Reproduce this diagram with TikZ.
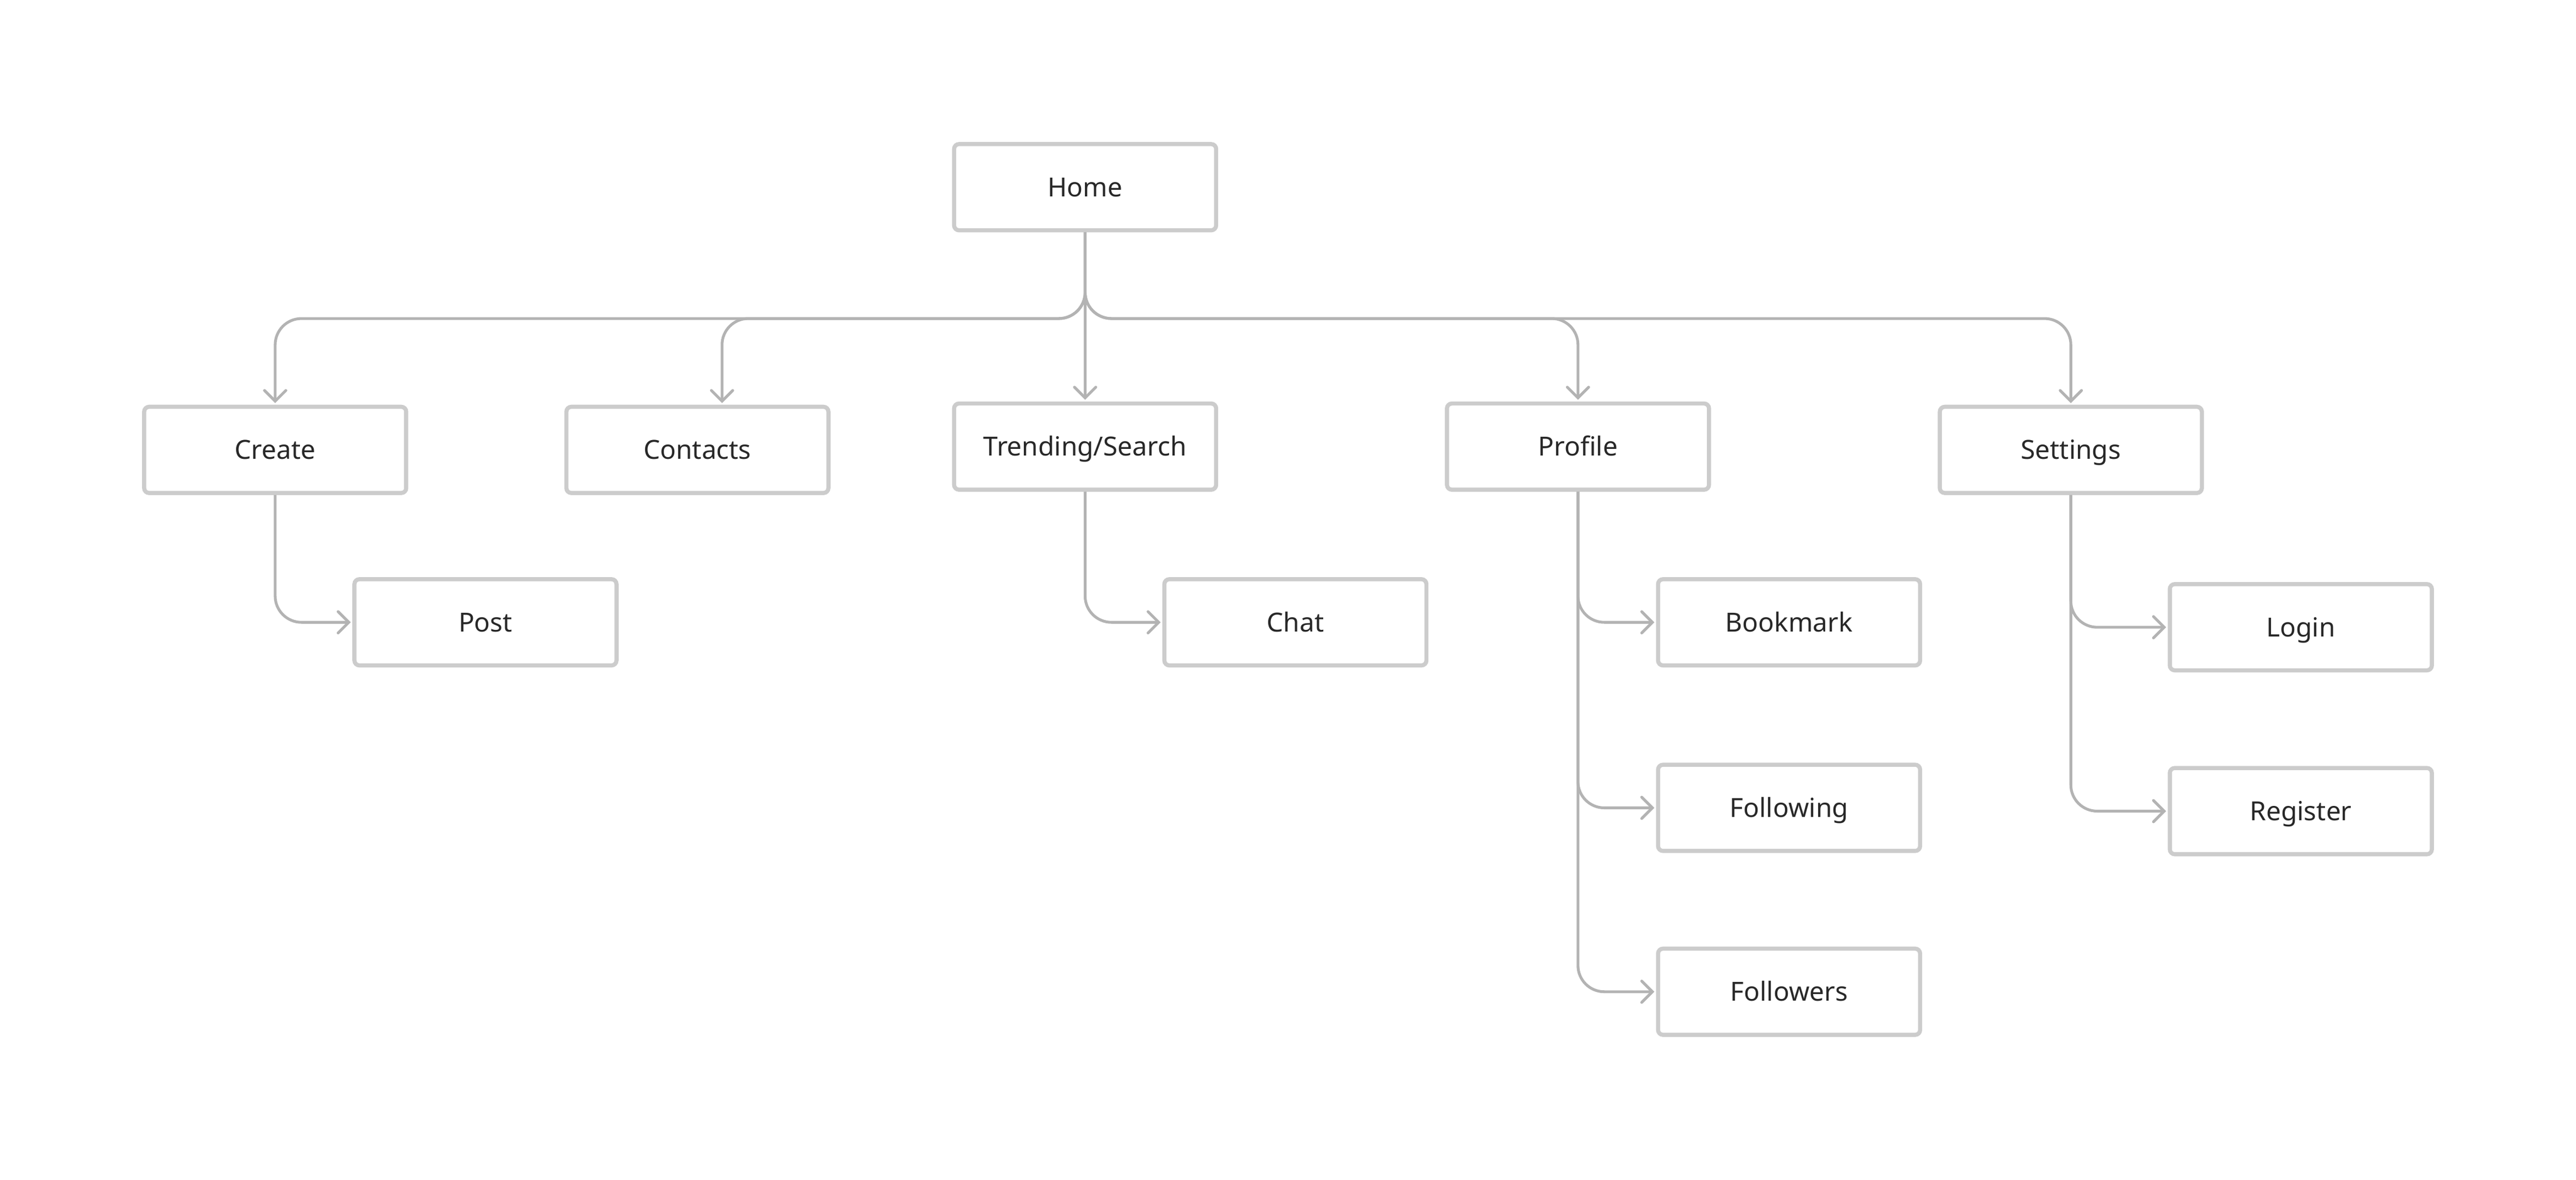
\documentclass[tikz,border=0pt]{standalone}
\usepackage{fontspec}
\setmainfont{Noto Sans}
\usetikzlibrary{arrows.meta}
\definecolor{boxline}{HTML}{CCCCCC}
\definecolor{connline}{HTML}{B3B3B3}
\definecolor{txt}{HTML}{282828}
\tikzset{
  pagebox/.style={draw=boxline, line width=2.5pt, rounded corners=3pt, fill=white,
    minimum width=159.5pt, minimum height=52.5pt, inner sep=0pt,
    text height=11.4pt, text depth=0pt,
    text=txt, font=\fontsize{16}{19}\selectfont},
  conn/.style={draw=connline, line width=1.7pt, rounded corners=16pt,
    -{Straight Barb[length=6.5pt, width=13pt, line cap=round]}, shorten >=1pt}
}
\begin{document}
\begin{tikzpicture}[x=1pt, y=-1pt]
\useasboundingbox (0,0) rectangle (1568,718.33);
% nodes
\node[pagebox] (home) at (660.5,114) {Home};
\node[pagebox] (create) at (167.5,274) {Create};
\node[pagebox] (contacts) at (424.5,274) {Contacts};
\node[pagebox] (trend) at (660.5,272) {Trending/Search};
\node[pagebox] (profile) at (960.5,272) {Profile};
\node[pagebox] (settings) at (1260.5,274) {Settings};
\node[pagebox] (post) at (295.5,379) {Post};
\node[pagebox] (chat) at (788.5,379) {Chat};
\node[pagebox] (bookmark) at (1089,379) {Bookmark};
\node[pagebox] (following) at (1089,492) {Following};
\node[pagebox] (followers) at (1089,604) {Followers};
\node[pagebox] (login) at (1400.5,382) {Login};
\node[pagebox] (register) at (1400.5,494) {Register};
% helper coordinates
\coordinate (bus) at (0,194);
\coordinate (contactsin) at ([xshift=15pt]contacts.north);
% top-level connectors
\draw[conn] (home.south) -- (home.south |- bus) -- (create.north |- bus) -- (create.north);
\draw[conn] (home.south) -- (home.south |- bus) -- (contactsin |- bus) -- (contactsin);
\draw[conn] (home.south) -- (trend.north);
\draw[conn] (home.south) -- (home.south |- bus) -- (profile.north |- bus) -- (profile.north);
\draw[conn] (home.south) -- (home.south |- bus) -- (settings.north |- bus) -- (settings.north);
% second-level connectors
\draw[conn] (create.south) -- (create.south |- post.west) -- (post.west);
\draw[conn] (trend.south) -- (trend.south |- chat.west) -- (chat.west);
\draw[conn] (profile.south) -- (profile.south |- bookmark.west) -- (bookmark.west);
\draw[conn] (profile.south) -- (profile.south |- following.west) -- (following.west);
\draw[conn] (profile.south) -- (profile.south |- followers.west) -- (followers.west);
\draw[conn] (settings.south) -- (settings.south |- login.west) -- (login.west);
\draw[conn] (settings.south) -- (settings.south |- register.west) -- (register.west);
\end{tikzpicture}
\end{document}
